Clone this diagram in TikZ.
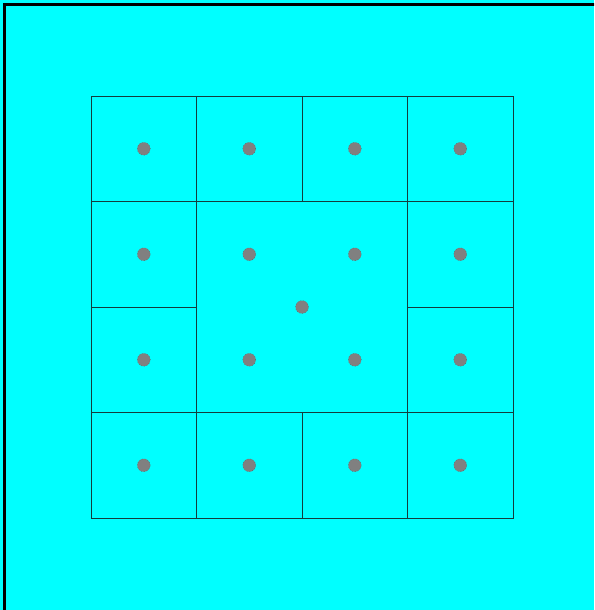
\documentclass[tikz,border=0pt]{standalone}
\definecolor{aqua}{RGB}{0,255,255}
\definecolor{dotgray}{RGB}{128,128,128}
\definecolor{gridline}{RGB}{20,60,60}
\begin{document}
\begin{tikzpicture}[x=1pt,y=-1pt,
  cellbox/.style={draw=gridline,line width=0.9pt,minimum size=105.5pt,inner sep=0pt,outer sep=0pt},
  bigbox/.style={cellbox,minimum size=211pt},
  dotmark/.style={circle,fill=dotgray,draw=dotgray!60!black,line width=0.3pt,dash pattern=on 0.6pt off 2.2pt,minimum size=13pt,inner sep=0pt}]
\fill[aqua] (0,0) rectangle (594,610);
\useasboundingbox (0,0) rectangle (594,610);
\begin{scope}
\clip (0,0) rectangle (594,610);
\draw[line width=2.5pt] (4.5,620) -- (4.5,4.5) -- (600,4.5);
\end{scope}
% border cells (column, row indices)
\foreach \c/\r in {0/0,1/0,2/0,3/0,0/1,3/1,0/2,3/2,0/3,1/3,2/3,3/3}{
  \node[cellbox] (cell\c\r) at ({91+105.5*\c+52.75},{96+105.5*\r+52.75}) {};
  \node[dotmark] (dot\c\r) at (cell\c\r.center) {};
}
\node[bigbox] (center) at (302,307) {};
\node[dotmark] (dotc) at (center.center) {};
\foreach \c/\r in {1/1,2/1,1/2,2/2}{
  \node[dotmark] (dot\c\r) at ({91+105.5*\c+52.75},{96+105.5*\r+52.75}) {};
}
\end{tikzpicture}
\end{document}
